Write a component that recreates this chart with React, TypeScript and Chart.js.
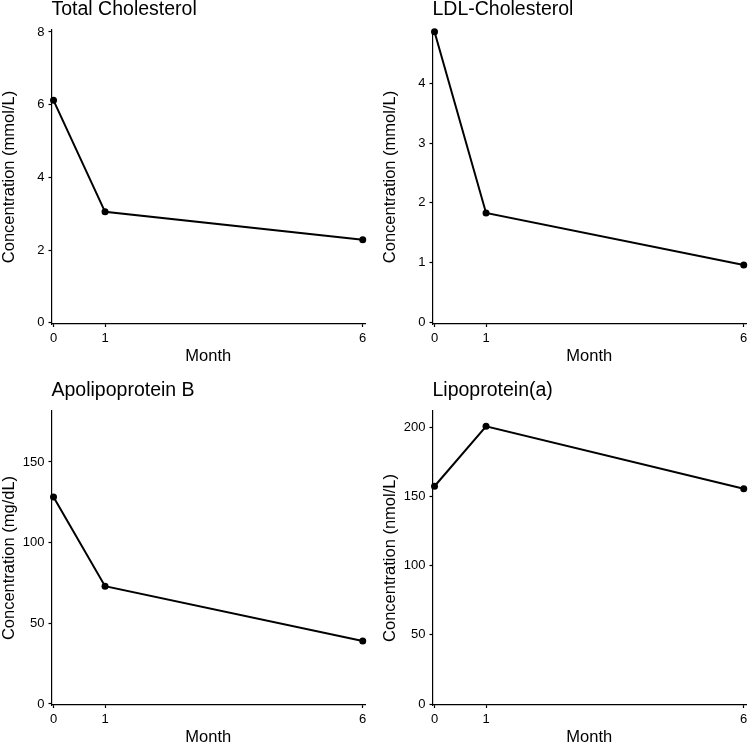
import React, { useEffect, useRef } from "react";
import { Chart, registerables } from "chart.js";

Chart.register(...registerables);

// ---- data ----
const months = [0, 1, 6];
const monthTicks = [0, 1, 6];

const totalCholesterol = [6.12, 3.05, 2.28];
const ldlCholesterol = [4.86, 1.83, 0.96];
const apolipoproteinB = [128.3, 73.0, 39.0];
const lipoproteinA = [157.4, 200.7, 155.6];

const totalTicks = [0, 2, 4, 6, 8];
const ldlTicks = [0, 1, 2, 3, 4];
const apoBTicks = [0, 50, 100, 150];
const lpaTicks = [0, 50, 100, 150, 200];

const panelTitles = ["Total Cholesterol", "LDL-Cholesterol", "Apolipoprotein B", "Lipoprotein(a)"];
const yAxisTitles = [
  "Concentration (mmol/L)",
  "Concentration (mmol/L)",
  "Concentration (mg/dL)",
  "Concentration (nmol/L)",
];
const xAxisTitle = "Month";

const FONT = "'Liberation Sans', Arial, Helvetica, sans-serif";

type PanelProps = {
  title: string;
  yTitle: string;
  values: number[];
  yTicks: number[];
  yMin: number;
  yMax: number;
  left: number;
  top: number;
};

function Panel({ title, yTitle, values, yTicks, yMin, yMax, left, top }: PanelProps) {
  const ref = useRef<HTMLCanvasElement>(null);
  useEffect(() => {
    const chart = new Chart(ref.current as HTMLCanvasElement, {
      type: "line",
      data: {
        datasets: [
          {
            data: months.map((m, i) => ({ x: m, y: values[i] })),
            borderColor: "#000",
            backgroundColor: "#000",
            borderWidth: 2,
            pointRadius: 3.5,
            pointHoverRadius: 3.5,
            pointBorderWidth: 0,
            pointBackgroundColor: "#000",
            tension: 0,
            clip: false as any,
          },
        ],
      },
      options: {
        responsive: false,
        animation: false,
        events: [],
        layout: { padding: { left: 0, right: 16, top: 0, bottom: 7 } },
        plugins: {
          legend: { display: false },
          tooltip: { enabled: false },
          title: {
            display: true,
            text: title,
            align: "start",
            fullSize: false,
            color: "#000",
            font: { family: FONT, size: 19.5, weight: "normal", lineHeight: 1 },
            padding: { top: 0, bottom: 10.5 },
          },
        },
        scales: {
          x: {
            type: "linear",
            min: -0.039,
            max: 6.044,
            afterFit: (s: any) => {
              s.height = 50;
            },
            afterBuildTicks: (s: any) => {
              s.ticks = monthTicks.map((v) => ({ value: v }));
            },
            grid: {
              display: true,
              drawOnChartArea: false,
              drawTicks: true,
              tickLength: 3,
              tickColor: "#000",
              tickWidth: 1.2,
            },
            border: { display: true, color: "#000", width: 1.2 },
            ticks: {
              color: "#000",
              font: { family: FONT, size: 13 },
              padding: 4,
              maxRotation: 0,
              autoSkip: false,
            },
            title: {
              display: true,
              text: xAxisTitle,
              color: "#000",
              font: { family: FONT, size: 16.5 },
              padding: { top: 0, bottom: 7.6 },
            },
          },
          y: {
            type: "linear",
            min: yMin,
            max: yMax,
            afterFit: (s: any) => {
              s.width = 51.5;
            },
            afterBuildTicks: (s: any) => {
              s.ticks = yTicks.map((v) => ({ value: v }));
            },
            grid: {
              display: true,
              drawOnChartArea: false,
              drawTicks: true,
              tickLength: 3,
              tickColor: "#000",
              tickWidth: 1.2,
            },
            border: { display: true, color: "#000", width: 1.2 },
            ticks: {
              color: "#000",
              font: { family: FONT, size: 13 },
              padding: 4,
              autoSkip: false,
            },
            title: {
              display: true,
              text: yTitle,
              color: "#000",
              font: { family: FONT, size: 16.5 },
              padding: { top: 0, bottom: 0 },
            },
          },
        },
      } as any,
    });
    return () => chart.destroy();
  }, []);
  return (
    <canvas
      ref={ref}
      width={381}
      height={381}
      style={{ position: "absolute", left, top, width: 381, height: 381 }}
    />
  );
}

export default function App() {
  return (
    <div
      style={{
        position: "absolute",
        left: 0,
        top: 0,
        width: 750,
        height: 746,
        overflow: "hidden",
        background: "#fff",
      }}
    >
      <Panel
        title={panelTitles[0]}
        yTitle={yAxisTitles[0]}
        values={totalCholesterol}
        yTicks={totalTicks}
        yMin={-0.036}
        yMax={8.055}
        left={0}
        top={0}
      />
      <Panel
        title={panelTitles[1]}
        yTitle={yAxisTitles[1]}
        values={ldlCholesterol}
        yTicks={ldlTicks}
        yMin={-0.027}
        yMax={4.89}
        left={381}
        top={0}
      />
      <Panel
        title={panelTitles[2]}
        yTitle={yAxisTitles[2]}
        values={apolipoproteinB}
        yTicks={apoBTicks}
        yMin={-0.62}
        yMax={181.6}
        left={0}
        top={381}
      />
      <Panel
        title={panelTitles[3]}
        yTitle={yAxisTitles[3]}
        values={lipoproteinA}
        yTicks={lpaTicks}
        yMin={-0.72}
        yMax={211.8}
        left={381}
        top={381}
      />
    </div>
  );
}
